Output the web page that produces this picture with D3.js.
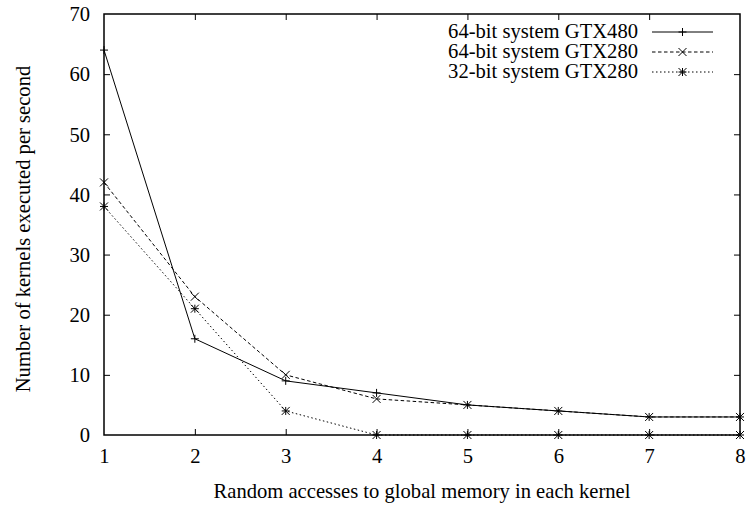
<!DOCTYPE html>
<html>
<head>
<meta charset="utf-8">
<script src="https://cdn.jsdelivr.net/npm/d3@7"></script>
<style>
  html, body { margin: 0; padding: 0; background: #fff; }
  svg text { font-family: "Liberation Serif", "DejaVu Serif", serif; fill: #000; }
</style>
</head>
<body>
<svg id="chart" width="749" height="508"></svg>
<script>
// Random accesses to global memory per kernel
const accesses = [1, 2, 3, 4, 5, 6, 7, 8];
const seriesNames = ["64-bit system GTX480", "64-bit system GTX280", "32-bit system GTX280"];
const gtx480x64 = [64, 16, 9, 7, 5, 4, 3, 3];
const gtx280x64 = [42, 23, 10, 6, 5, 4, 3, 3];
const gtx280x32 = [38, 21, 4, 0, 0, 0, 0, 0];
const yTicks = [0, 10, 20, 30, 40, 50, 60, 70];
const xTicks = [1, 2, 3, 4, 5, 6, 7, 8];

const svg = d3.select("#chart");
const plotLeft = 104, plotRight = 740, plotTop = 14, plotBottom = 435;
const fontSize = 20.6;
const serif = '"Liberation Serif", "DejaVu Serif", serif';

const x = d3.scaleLinear().domain([1, 8]).range([plotLeft, plotRight]);
const y = d3.scaleLinear().domain([0, 70]).range([plotBottom, plotTop]);

const series = [
  { name: seriesNames[0], values: gtx480x64, dash: null, marker: "plus" },
  { name: seriesNames[1], values: gtx280x64, dash: "3.5,2.5", marker: "cross" },
  { name: seriesNames[2], values: gtx280x32, dash: "1.5,2.5", marker: "star" }
];

const tickLen = 6;
const g = svg.append("g");

// Axes with inward ticks, mirrored on the opposite sides
const axisBottom = d3.axisBottom(x).tickValues(xTicks).tickSize(-tickLen).tickFormat(d3.format("d"));
const axisLeft = d3.axisLeft(y).tickValues(yTicks).tickSize(-tickLen).tickPadding(14).tickFormat(d3.format("d"));
const axisTop = d3.axisTop(x).tickValues(xTicks).tickSize(-tickLen).tickFormat("");
const axisRight = d3.axisRight(y).tickValues(yTicks).tickSize(-tickLen).tickFormat("");

function styleAxis(sel) {
  sel.attr("font-family", serif).attr("font-size", fontSize);
  sel.select(".domain").remove();
  sel.selectAll(".tick line").attr("stroke", "#000").attr("stroke-width", 1);
  sel.selectAll(".tick text").attr("font-size", fontSize).attr("fill", "#000");
}

const gx = g.append("g").attr("transform", `translate(0,${plotBottom})`).call(axisBottom).call(styleAxis);
gx.selectAll(".tick text").attr("y", 28).attr("dy", 0);
const gy = g.append("g").attr("transform", `translate(${plotLeft},0)`).call(axisLeft).call(styleAxis);
gy.selectAll(".tick text").attr("dy", "0.33em");
g.append("g").attr("transform", `translate(0,${plotTop})`).call(axisTop).call(styleAxis);
g.append("g").attr("transform", `translate(${plotRight},0)`).call(axisRight).call(styleAxis);

// Hide the tick marks that would sit on the corners of the frame
g.selectAll(".tick").filter(function (d) {
  return d === 1 || d === 8 || d === 0 || d === 70;
}).select("line").attr("stroke-opacity", 0);

// Frame
g.append("rect")
  .attr("x", plotLeft).attr("y", plotTop)
  .attr("width", plotRight - plotLeft).attr("height", plotBottom - plotTop)
  .attr("fill", "none").attr("stroke", "#000").attr("stroke-width", 1.5);

// Point markers
const ms = 4;
function drawMarker(sel, type, cx, cy) {
  const p = d3.path();
  if (type === "plus" || type === "star") {
    p.moveTo(cx - ms, cy); p.lineTo(cx + ms, cy);
    p.moveTo(cx, cy - ms); p.lineTo(cx, cy + ms);
  }
  if (type === "cross" || type === "star") {
    p.moveTo(cx - ms, cy - ms); p.lineTo(cx + ms, cy + ms);
    p.moveTo(cx - ms, cy + ms); p.lineTo(cx + ms, cy - ms);
  }
  sel.append("path").attr("d", p.toString()).attr("stroke", "#000").attr("stroke-width", 1).attr("fill", "none");
}

const line = d3.line().x((d, i) => x(accesses[i])).y(d => y(d));

series.forEach(s => {
  const sg = g.append("g");
  sg.append("path")
    .attr("d", line(s.values))
    .attr("fill", "none")
    .attr("stroke", "#000")
    .attr("stroke-width", 1)
    .attr("stroke-dasharray", s.dash);
  s.values.forEach((v, i) => drawMarker(sg, s.marker, x(accesses[i]), y(v)));
});

// Legend
const legendTextRight = 638, sampleX0 = 652, sampleX1 = 713, legendBase0 = 38, legendStep = 20;
series.forEach((s, i) => {
  const base = legendBase0 + i * legendStep;
  const ly = base - 6;
  g.append("text")
    .attr("x", legendTextRight).attr("y", base)
    .attr("text-anchor", "end")
    .attr("font-family", serif)
    .attr("font-size", fontSize)
    .text(s.name);
  g.append("line")
    .attr("x1", sampleX0).attr("x2", sampleX1)
    .attr("y1", ly).attr("y2", ly)
    .attr("stroke", "#000").attr("stroke-width", 1)
    .attr("stroke-dasharray", s.dash);
  drawMarker(g, s.marker, (sampleX0 + sampleX1) / 2, ly);
});

// Axis titles
g.append("text")
  .attr("x", (plotLeft + plotRight) / 2).attr("y", 498)
  .attr("text-anchor", "middle")
  .attr("font-family", serif)
  .attr("font-size", fontSize)
  .text("Random accesses to global memory in each kernel");

g.append("text")
  .attr("transform", `translate(30,229) rotate(-90)`)
  .attr("text-anchor", "middle")
  .attr("font-family", serif)
  .attr("font-size", fontSize)
  .text("Number of kernels executed per second");
</script>
</body>
</html>
